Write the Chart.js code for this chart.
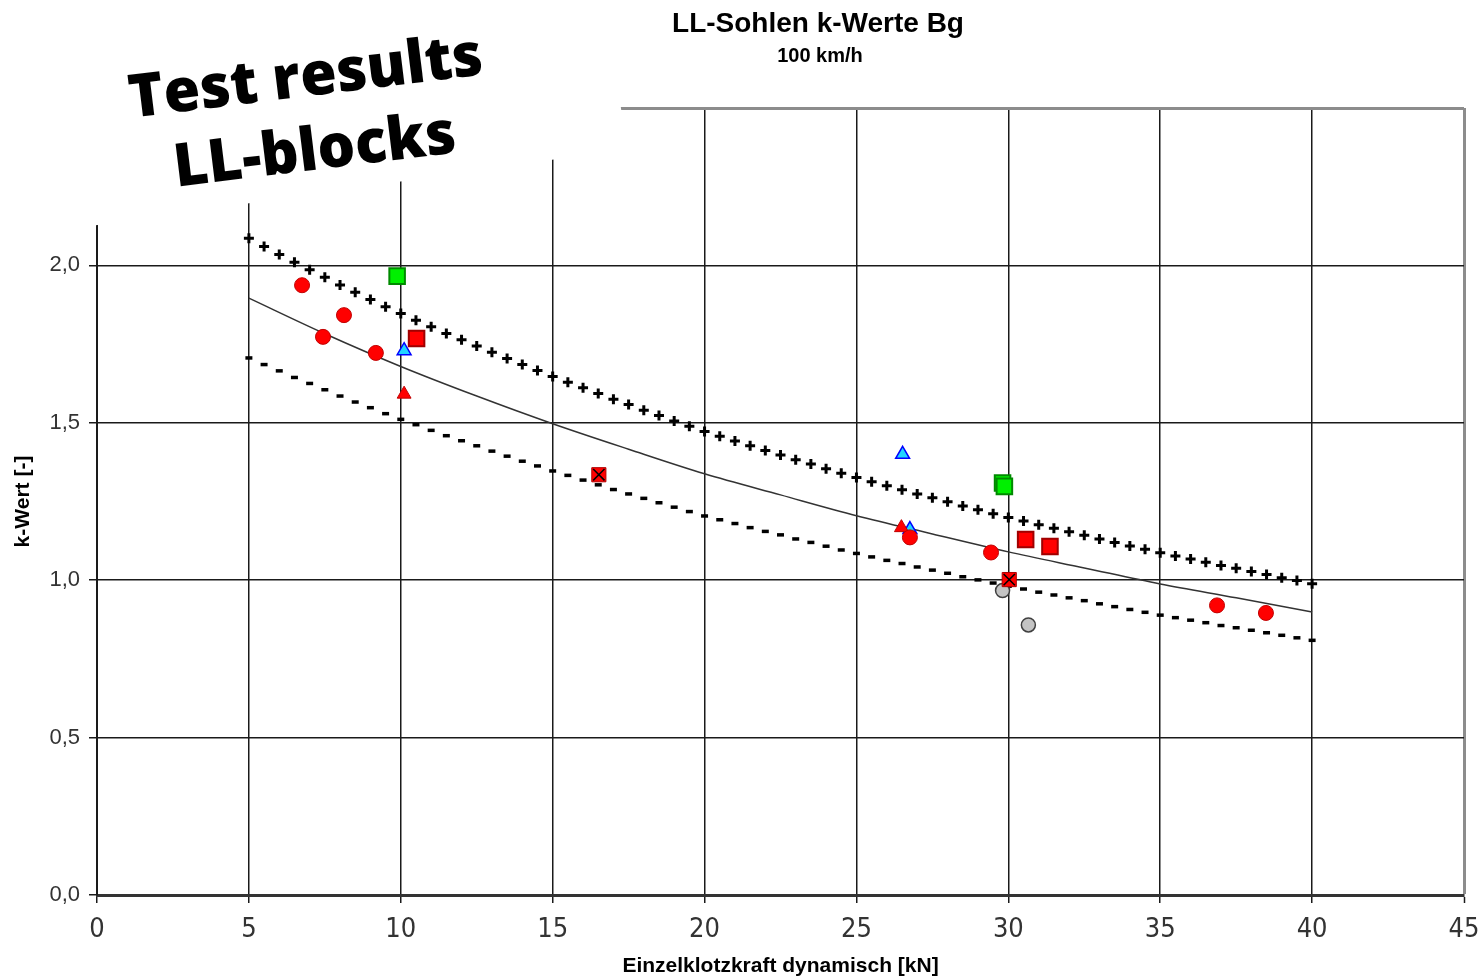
<!DOCTYPE html>
<html>
<head>
<meta charset="utf-8">
<title>LL-Sohlen k-Werte Bg</title>
<script src="https://cdn.jsdelivr.net/npm/chart.js@4.4.0/dist/chart.umd.min.js"></script>
<style>
  html, body { margin: 0; padding: 0; background: #fff; }
  #wrap { width: 1478px; height: 979px; }
</style>
</head>
<body>
<div id="wrap"><canvas id="chartK" width="1478" height="979"></canvas></div>
<script>
// Beschriftung
const titleText = 'LL-Sohlen k-Werte Bg';
const subtitleText = '100 km/h';
const stampLines = ['Test results', 'LL-blocks'];
const xTitle = 'Einzelklotzkraft dynamisch [kN]';
const yTitle = 'k-Wert [-]';
const xTickLabels = ['0', '5', '10', '15', '20', '25', '30', '35', '40', '45'];
const yTickLabels = ['0,0', '0,5', '1,0', '1,5', '2,0', ''];

const boundX = [5, 5.5, 6, 6.5, 7, 7.5, 8, 8.5, 9, 9.5,
  10, 10.5, 11, 11.5, 12, 12.5, 13, 13.5, 14, 14.5,
  15, 15.5, 16, 16.5, 17, 17.5, 18, 18.5, 19, 19.5,
  20, 20.5, 21, 21.5, 22, 22.5, 23, 23.5, 24, 24.5,
  25, 25.5, 26, 26.5, 27, 27.5, 28, 28.5, 29, 29.5,
  30, 30.5, 31, 31.5, 32, 32.5, 33, 33.5, 34, 34.5,
  35, 35.5, 36, 36.5, 37, 37.5, 38, 38.5, 39, 39.5, 40];
const upperK = [2.086, 2.060, 2.035, 2.010, 1.986, 1.962, 1.938, 1.915, 1.892, 1.869,
  1.847, 1.826, 1.805, 1.784, 1.764, 1.744, 1.724, 1.704, 1.685, 1.666,
  1.647, 1.629, 1.611, 1.593, 1.575, 1.558, 1.540, 1.523, 1.506, 1.489,
  1.472, 1.457, 1.442, 1.427, 1.412, 1.398, 1.383, 1.369, 1.354, 1.340,
  1.326, 1.313, 1.300, 1.287, 1.274, 1.262, 1.249, 1.236, 1.224, 1.211,
  1.199, 1.188, 1.176, 1.165, 1.154, 1.143, 1.131, 1.120, 1.109, 1.098,
  1.087, 1.077, 1.067, 1.057, 1.047, 1.038, 1.028, 1.018, 1.008, 0.999, 0.989];
const lowerK = [1.706, 1.685, 1.665, 1.644, 1.625, 1.605, 1.585, 1.566, 1.548, 1.529,
  1.511, 1.494, 1.476, 1.459, 1.443, 1.427, 1.410, 1.394, 1.378, 1.363,
  1.347, 1.333, 1.318, 1.303, 1.288, 1.274, 1.260, 1.246, 1.232, 1.218,
  1.204, 1.192, 1.180, 1.167, 1.155, 1.144, 1.131, 1.120, 1.108, 1.096,
  1.085, 1.074, 1.063, 1.053, 1.042, 1.032, 1.022, 1.011, 1.001, 0.991,
  0.981, 0.972, 0.962, 0.953, 0.944, 0.935, 0.925, 0.916, 0.907, 0.898,
  0.889, 0.881, 0.873, 0.865, 0.856, 0.849, 0.841, 0.833, 0.825, 0.817, 0.809];

// Mittelwertkurve
const meanX = [5, 7.5, 10, 12.5, 15, 17.5, 20, 22.5, 25, 27.5, 30, 32.5, 35, 37.5, 40];
const meanK = [1.896, 1.783, 1.679, 1.585, 1.497, 1.416, 1.338, 1.271, 1.205, 1.147, 1.090, 1.039, 0.988, 0.944, 0.899];

// Messpunkte
const redCircleX = [6.75, 7.44, 8.13, 9.18, 26.76, 29.43, 36.87, 38.48];
const redCircleK = [1.937, 1.773, 1.842, 1.722, 1.136, 1.088, 0.920, 0.896];
const redSquareX = [10.52, 30.57, 31.37];
const redSquareK = [1.768, 1.129, 1.107];
const greenSquareX = [9.88, 29.81, 29.87];
const greenSquareK = [1.966, 1.309, 1.298];
const cyanTriangleX = [10.11, 26.52, 26.76];
const cyanTriangleK = [1.729, 1.400, 1.161];
const redTriangleX = [10.11, 26.48];
const redTriangleK = [1.591, 1.167];
const crossSquareX = [16.52, 30.03];
const crossSquareK = [1.335, 1.002];
const greyCircleX = [29.81, 30.66];
const greyCircleK = [0.967, 0.858];

function pts(xs, ys) {
  return xs.map((x, i) => ({ x: x, y: ys[i] }));
}

const sansFont = "'Liberation Sans', Arial, sans-serif";
const narrowFont = "'DejaVu Sans Condensed', 'Liberation Sans', sans-serif";

// weisses Feld + Stempeltext oben links, Titel
const overlayPlugin = {
  id: 'overlay',
  afterDraw(chart) {
    const c = chart.ctx;
    c.save();
    c.fillStyle = '#fff';
    c.beginPath();
    c.moveTo(0, 0);
    c.lineTo(605, 0);
    c.lineTo(627, 149);
    c.lineTo(0, 239);
    c.closePath();
    c.fill();

    c.fillStyle = '#000';
    c.textAlign = 'center';
    c.textBaseline = 'alphabetic';
    c.font = 'bold 28px ' + sansFont;
    c.fillText(titleText, 818, 32);
    c.font = 'bold 20px ' + sansFont;
    c.fillText(subtitleText, 820, 62);

    // Stempel
    c.translate(308, 96);
    c.rotate(-7 * Math.PI / 180);
    c.font = '800 60px "Open Sans", "DejaVu Sans", sans-serif';
    const sx = 356 / c.measureText(stampLines[0]).width;
    c.scale(sx, 1);
    c.fillText(stampLines[0], 0, 0);
    c.fillText(stampLines[1], 0, 74);
    c.restore();
  }
};

const ctx = document.getElementById('chartK').getContext('2d');

new Chart(ctx, {
  type: 'scatter',
  data: {
    datasets: [
      { label: 'x', data: pts(crossSquareX, crossSquareK), pointStyle: 'crossRot', pointRadius: 8,
        borderColor: '#000', borderWidth: 1.5, backgroundColor: '#000' },
      { label: 'x-box', data: pts(crossSquareX, crossSquareK), pointStyle: 'rect', pointRadius: 10,
        backgroundColor: '#ff0000', borderColor: '#b00000', borderWidth: 1 },
      { label: 'rote Kreise', data: pts(redCircleX, redCircleK), pointStyle: 'circle', pointRadius: 7.5,
        backgroundColor: '#ff0000', borderColor: '#c00000', borderWidth: 1 },
      { label: 'rote Quadrate', data: pts(redSquareX, redSquareK), pointStyle: 'rect', pointRadius: 11,
        backgroundColor: '#ff0000', borderColor: '#a00000', borderWidth: 2 },
      { label: 'gruene Quadrate', data: pts(greenSquareX, greenSquareK), pointStyle: 'rect', pointRadius: 11,
        backgroundColor: '#00f000', borderColor: '#008a00', borderWidth: 2 },
      { label: 'rote Dreiecke', data: pts(redTriangleX, redTriangleK), pointStyle: 'triangle', pointRadius: 8,
        backgroundColor: '#ff0000', borderColor: '#c00000', borderWidth: 1 },
      { label: 'blaue Dreiecke', data: pts(cyanTriangleX, cyanTriangleK), pointStyle: 'triangle', pointRadius: 8,
        backgroundColor: '#22d4ff', borderColor: '#0000ff', borderWidth: 1.5 },
      { label: 'graue Kreise', data: pts(greyCircleX, greyCircleK), pointStyle: 'circle', pointRadius: 7,
        backgroundColor: '#c4c4c4', borderColor: '#404040', borderWidth: 1.5 },
      { label: 'Mittelwert', data: pts(meanX, meanK), showLine: true, pointRadius: 0,
        borderColor: '#333', borderWidth: 1.5, cubicInterpolationMode: 'monotone' },
      { label: 'oben', data: pts(boundX, upperK), pointStyle: 'cross', pointRadius: 5,
        borderColor: '#000', borderWidth: 3 },
      { label: 'unten', data: pts(boundX, lowerK), pointStyle: 'line', pointRadius: 3.5,
        borderColor: '#000', borderWidth: 3.5 }
    ]
  },
  options: {
    responsive: false,
    animation: false,
    layout: { padding: { top: 108, right: 14, left: 0, bottom: 0 } },
    plugins: {
      legend: { display: false },
      tooltip: { enabled: false }
    },
    scales: {
      x: {
        type: 'linear',
        min: 0,
        max: 45,
        afterFit(scale) {
          scale.height = 84;
          scale.paddingLeft = 0;
          scale.paddingRight = 0;
        },
        ticks: {
          stepSize: 5,
          padding: 11,
          color: '#333',
          font: { family: narrowFont, size: 27 },
          maxRotation: 0,
          callback: (v, i) => xTickLabels[i]
        },
        grid: {
          color: (c) => c.tick && c.tick.value === 45 ? '#8c8c8c' : '#1a1a1a',
          lineWidth: (c) => c.tick && c.tick.value === 45 ? 3 : 1.5,
          tickLength: 8,
          tickColor: '#1a1a1a',
          tickWidth: 1.5
        },
        border: { color: '#333', width: 3 },
        title: {
          display: true,
          text: xTitle,
          color: '#000',
          font: { family: sansFont, size: 21, weight: 'bold' },
          padding: { top: 0, bottom: 0 }
        }
      },
      y: {
        type: 'linear',
        min: 0,
        max: 2.5,
        afterFit(scale) { scale.width = 97; },
        ticks: {
          stepSize: 0.5,
          padding: 9,
          color: '#333',
          font: { family: sansFont, size: 22 },
          callback: (v, i) => yTickLabels[i]
        },
        grid: {
          color: (c) => c.tick && c.tick.value === 2.5 ? '#8c8c8c' : '#1a1a1a',
          lineWidth: (c) => c.tick && c.tick.value === 2.5 ? 3 : 1.5,
          tickLength: 8,
          tickColor: '#1a1a1a',
          tickWidth: 1.5
        },
        border: { color: '#1a1a1a', width: 2 },
        title: {
          display: true,
          text: yTitle,
          color: '#000',
          font: { family: sansFont, size: 21, weight: 'bold' },
          padding: { top: 11, bottom: 0 }
        }
      }
    }
  },
  plugins: [overlayPlugin]
});
</script>
</body>
</html>
